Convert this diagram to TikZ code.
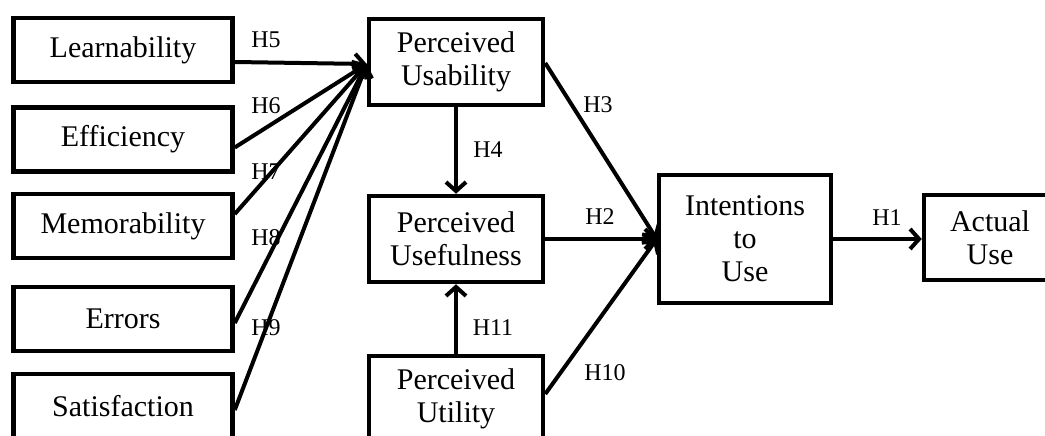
\documentclass[tikz,border=0pt]{standalone}
\usepackage{fontspec}
\setmainfont{Liberation Serif}
\usetikzlibrary{arrows.meta}
\begin{document}
\begin{tikzpicture}[x=1pt,y=-1pt,
  box/.style={draw=black,line width=4.5pt,fill=white,align=center,inner sep=0pt,
    font=\fontsize{30}{33}\selectfont},
  lbox/.style={box,minimum width=219pt,minimum height=64pt},
  mbox/.style={box,minimum width=174pt,minimum height=86pt},
  conn/.style={line width=4pt,-{Straight Barb[length=9pt,width=20pt]}},
  hyp/.style={font=\fontsize{24}{26}\selectfont,inner sep=0pt}]
\clip (0,0) rectangle (1045,436);
\fill[white] (0,0) rectangle (1045,436);
% left column
\node[lbox] (learn) at (123,50) {Learnability};
\node[lbox] (eff) at (123,139.5) {Efficiency};
\node[lbox] (mem) at (123,226) {Memorability};
\node[lbox] (err) at (123,319) {Errors};
\node[lbox] (sat) at (123,406) {Satisfaction};
% middle column
\node[mbox] (pu) at (456,62) {Perceived\\Usability};
\node[mbox] (pus) at (456,239) {Perceived\\Usefulness};
\node[mbox] (put) at (456,399) {Perceived\\Utility};
% right
\node[box,minimum width=172pt,minimum height=128pt] (iu) at (745,239) {Intentions\\to\\Use};
\node[box,minimum width=132pt,minimum height=85pt] (au) at (990,237.5) {Actual\\Use};
\coordinate (hub) at ([yshift=-2pt]pu.west);
% connectors
\draw[conn] ([yshift=-12pt]learn.east) -- (hub);
\draw[conn] ([yshift=-8pt]eff.east) -- (hub);
\draw[conn] ([yshift=12pt]mem.east) -- (hub);
\draw[conn] ([yshift=-4pt]err.east) -- (hub);
\draw[conn] ([yshift=-4pt]sat.east) -- (hub);
\draw[conn] (pu.south) -- (pus.north);
\draw[conn] (put.north) -- (pus.south);
\draw[conn] ([yshift=-1pt]pu.east) -- (iu.west);
\draw[conn] (pus.east) -- (iu.west);
\draw[conn] ([yshift=5pt]put.east) -- (iu.west);
\draw[conn] (iu.east) -- ([yshift=-1.5pt]au.west);
% labels
\node[hyp] (h5) at (266,40) {H5};
\node[hyp] (h6) at (266,106) {H6};
\node[hyp] (h7) at (266,172) {H7};
\node[hyp] (h8) at (266,238) {H8};
\node[hyp] (h9) at (266,328) {H9};
\node[hyp] (h4) at (488,150) {H4};
\node[hyp] (h3) at (598,105) {H3};
\node[hyp] (h2) at (600,217) {H2};
\node[hyp] (h11) at (493,328) {H11};
\node[hyp] (h10) at (605,373) {H10};
\node[hyp] (h1) at (887,218) {H1};
\end{tikzpicture}
\end{document}
